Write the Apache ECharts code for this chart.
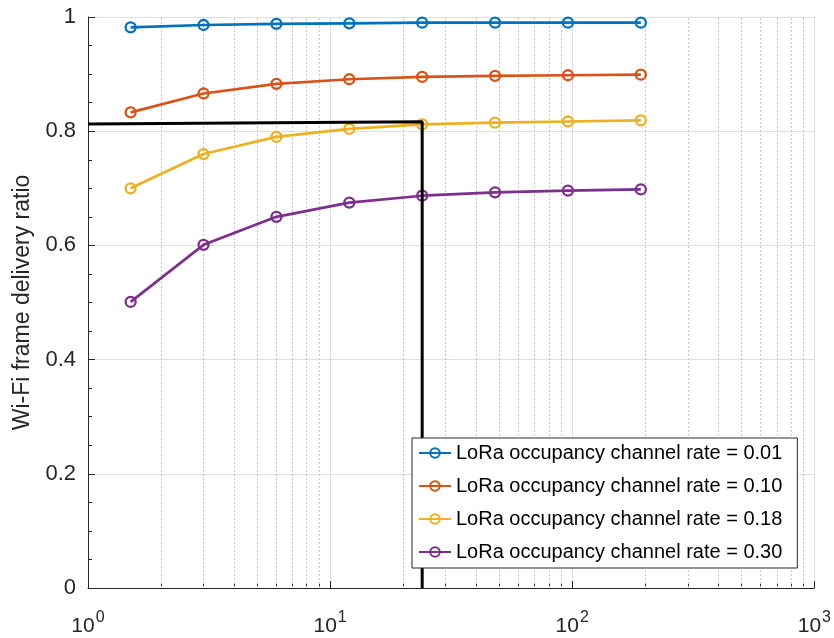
<!DOCTYPE html>
<html>
<head>
<meta charset="utf-8">
<script src="https://cdn.jsdelivr.net/npm/echarts@6/dist/echarts.min.js"></script>
<style>
  html, body { margin: 0; padding: 0; background: #fff; }
  #graph1 { width: 834px; height: 638px; }
</style>
</head>
<body>
<div id="graph1"></div>
<script>
var xList = [1.5, 3, 6, 12, 24, 48, 96, 192];
var rate001 = [0.982, 0.986, 0.988, 0.989, 0.990, 0.990, 0.990, 0.990];
var rate010 = [0.833, 0.866, 0.883, 0.891, 0.895, 0.897, 0.898, 0.899];
var rate018 = [0.700, 0.760, 0.790, 0.804, 0.812, 0.815, 0.817, 0.819];
var rate030 = [0.501, 0.601, 0.650, 0.675, 0.687, 0.693, 0.696, 0.698];
var markerLine = [[1, 0.8125], [24, 0.8165], [24, 0]];
var minorX = [2, 3, 4, 5, 6, 7, 8, 9, 20, 30, 40, 50, 60, 70, 80, 90, 200, 300, 400, 500, 600, 700, 800, 900];
var names = ['LoRa occupancy channel rate = 0.01', 'LoRa occupancy channel rate = 0.10',
             'LoRa occupancy channel rate = 0.18', 'LoRa occupancy channel rate = 0.30'];
var colors = ['#0072BD', '#D95319', '#EDB120', '#7E2F8E'];

(function(){
	var mychart = echarts.init(document.querySelector("#graph1"));

	function pairs(ys) {
		var out = [];
		for (var i = 0; i < xList.length; ++i) {
			out.push([xList[i], ys[i]]);
		}
		return out;
	}

	function lineSeries(name, ys, color) {
		return {
			name: name,
			type: 'line',
			data: pairs(ys),
			symbol: 'circle',
			symbolSize: 10,
			z: 3,
			lineStyle: { color: color, width: 2.7 },
			itemStyle: { color: 'rgba(255,255,255,0)', borderColor: color, borderWidth: 2.3 },
			emphasis: { disabled: true }
		};
	}

	var gridLines = [];
	for (var i = 0; i < minorX.length; ++i) {
		gridLines.push({ xAxis: minorX[i] });
	}

	var font = 'Liberation Sans, Arial, sans-serif';

	var option = {
		animation: false,
		textStyle: { fontFamily: font },
		grid: { left: 88, right: 18, top: 17, bottom: 50 },
		legend: {
			orient: 'vertical',
			left: 412,
			top: 438,
			z: 20,
			padding: [5, 15, 6, 6],
			itemWidth: 32,
			itemHeight: 12,
			itemGap: 13,
			borderColor: '#262626',
			borderWidth: 1,
			backgroundColor: '#fff',
			textStyle: { fontSize: 20, color: '#000', fontFamily: font },
			data: names
		},
		xAxis: [
			{
				type: 'log',
				logBase: 10,
				min: 1,
				max: 1000,
				axisLine: { show: true, lineStyle: { color: '#262626', width: 1 } },
				axisTick: { show: true, inside: true, length: 7, lineStyle: { color: '#262626' } },
				splitLine: { show: true, lineStyle: { color: '#dfdfdf', width: 1 } },
				axisLabel: {
					margin: 18,
					formatter: function (v) {
						return '{b|10}{s|' + Math.round(Math.log10(v)) + '}';
					},
					rich: {
						b: { fontSize: 21, color: '#262626', fontFamily: font, padding: [10, 0, 0, 0] },
						s: { fontSize: 16, color: '#262626', fontFamily: font, padding: [0, 0, 7, 1] }
					}
				}
			},
			{
				type: 'log',
				logBase: 10,
				min: 1,
				max: 1000,
				position: 'bottom',
				axisLine: { show: false },
				axisLabel: { show: false },
				splitLine: { show: false },
				axisTick: { show: true, inside: true, length: 4, customValues: minorX, lineStyle: { color: '#262626' } }
			}
		],
		yAxis: {
			type: 'value',
			min: 0,
			max: 1,
			interval: 0.2,
			name: 'Wi-Fi frame delivery ratio',
			nameLocation: 'middle',
			nameGap: 53,
			nameTextStyle: { fontSize: 23, color: '#262626', fontFamily: font },
			axisLine: { show: true, lineStyle: { color: '#262626', width: 1 } },
			axisTick: { show: true, inside: true, length: 7, lineStyle: { color: '#262626' } },
			minorTick: { show: true, splitNumber: 4, length: 4, lineStyle: { color: '#262626' } },
			splitLine: { show: true, lineStyle: { color: '#dfdfdf', width: 1 } },
			axisLabel: {
				fontSize: 22,
				color: '#262626',
				margin: 12,
				formatter: function (v) { return String(Math.round(v * 10) / 10); }
			}
		},
		series: [
			{
				type: 'line',
				data: [],
				silent: true,
				z: 1,
				markLine: {
					silent: true,
					symbol: 'none',
					z: 1,
					label: { show: false },
					lineStyle: { color: '#c8c8c8', type: [2, 2], width: 1 },
					data: gridLines
				}
			},
			lineSeries(names[0], rate001, colors[0]),
			lineSeries(names[1], rate010, colors[1]),
			lineSeries(names[2], rate018, colors[2]),
			lineSeries(names[3], rate030, colors[3]),
			{
				type: 'line',
				data: markerLine,
				symbol: 'none',
				z: 4,
				lineStyle: { color: '#000', width: 3 },
				emphasis: { disabled: true }
			}
		]
	};

	mychart.setOption(option);
})();
</script>
</body>
</html>
